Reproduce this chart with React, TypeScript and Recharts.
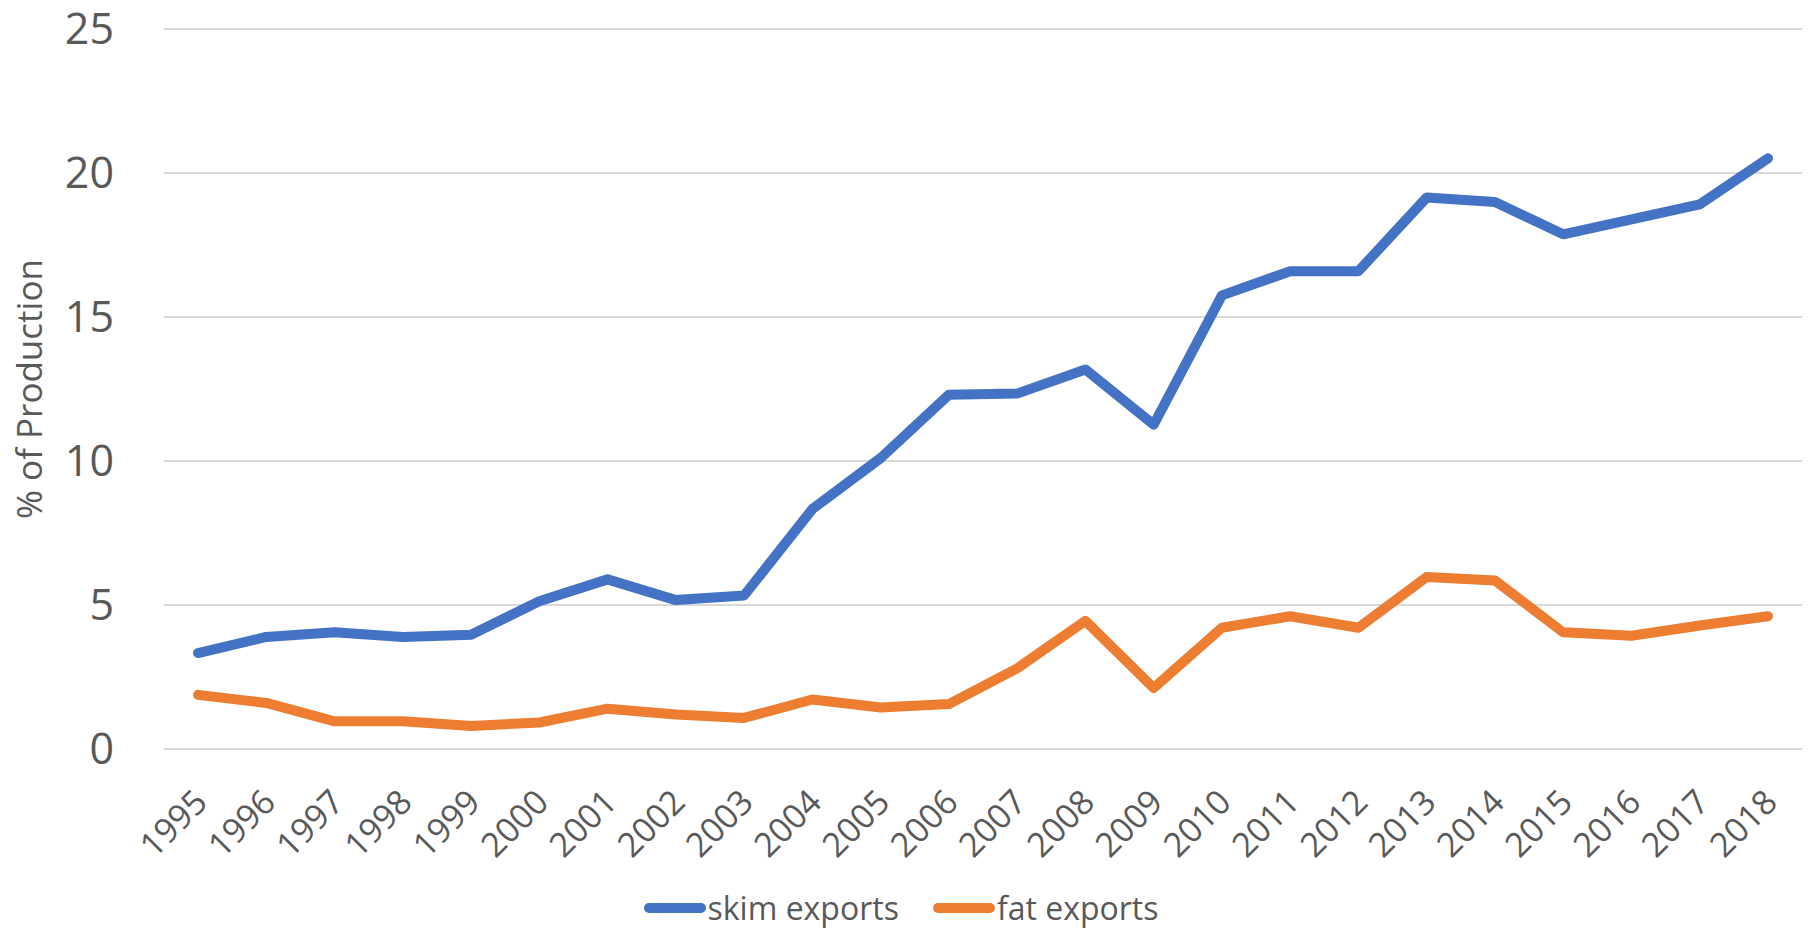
import { LineChart, Line, XAxis, YAxis, CartesianGrid, Legend, Label } from "recharts";

const years = [
  "1995", "1996", "1997", "1998", "1999", "2000", "2001", "2002", "2003", "2004", "2005", "2006",
  "2007", "2008", "2009", "2010", "2011", "2012", "2013", "2014", "2015", "2016", "2017", "2018",
];
const skimExports = [
  3.33, 3.89, 4.05, 3.89, 3.97, 5.13, 5.89, 5.17, 5.33, 8.33, 10.1, 12.3,
  12.34, 13.18, 11.26, 15.75, 16.59, 16.59, 19.15, 18.99, 17.87, 18.39, 18.91, 20.51,
];
const fatExports = [
  1.88, 1.6, 0.96, 0.96, 0.8, 0.92, 1.4, 1.2, 1.08, 1.72, 1.44, 1.56,
  2.8, 4.45, 2.12, 4.21, 4.61, 4.21, 5.97, 5.85, 4.05, 3.93, 4.29, 4.61,
];
const yTicks = [0, 5, 10, 15, 20, 25];

const data = years.map((y, i) => ({ year: y, skim: skimExports[i], fat: fatExports[i] }));

const FONT = "'Open Sans', sans-serif";
const TEXT = "#595959";
const BLUE = "#4472C4";
const ORANGE = "#ED7D31";

function YearTick({ x, y, payload }: any) {
  return (
    <text
      transform={`translate(${x + 2},${y + 46}) rotate(-45)`}
      textAnchor="end"
      dominantBaseline="central"
      fill={TEXT}
      fontSize={34}
      fontFamily={FONT}
    >
      {payload.value}
    </text>
  );
}

function LegendBox() {
  const items = [
    { label: "skim exports", color: BLUE },
    { label: "fat exports", color: ORANGE },
  ];
  return (
    <div style={{ display: "flex", justifyContent: "center", gap: 34, fontFamily: FONT, paddingTop: 6 }}>
      {items.map((it) => (
        <div key={it.label} style={{ display: "flex", alignItems: "center" }}>
          <div style={{ width: 62, height: 10, borderRadius: 5, background: it.color }} />
          <span style={{ fontSize: 32, color: TEXT, marginLeft: 2 }}>{it.label}</span>
        </div>
      ))}
    </div>
  );
}

export default function App() {
  return (
    <div style={{ position: "absolute", left: 0, top: 0, width: 1810, height: 930, background: "#fff" }}>
      <LineChart width={1810} height={930} data={data} margin={{ top: 29, right: 8, left: 0, bottom: 0 }}>
        <CartesianGrid stroke="#d9d9d9" strokeWidth={2} vertical={false} />
        <XAxis
          dataKey="year"
          axisLine={{ stroke: "#d9d9d9", strokeWidth: 2 }}
          tickLine={false}
          tickSize={0}
          tickMargin={0}
          interval={0}
          height={131}
          padding={{ left: 34, right: 34 }}
          tick={<YearTick />}
        />
        <YAxis
          width={164}
          domain={[0, 25]}
          ticks={yTicks}
          axisLine={false}
          tickLine={false}
          tickSize={0}
          tickMargin={50}
          tick={{ fontSize: 43, fill: TEXT, fontFamily: FONT }}
        >
          <Label
            content={() => (
              <text
                transform="translate(28,389) rotate(-90)"
                textAnchor="middle"
                dominantBaseline="central"
                fill={TEXT}
                fontSize={35}
                fontFamily={FONT}
              >
                % of Production
              </text>
            )}
          />
        </YAxis>
        <Legend verticalAlign="bottom" height={50} content={<LegendBox />} />
        <Line
          dataKey="skim"
          name="skim exports"
          stroke={BLUE}
          strokeWidth={10}
          dot={false}
          strokeLinecap="round"
          strokeLinejoin="round"
          isAnimationActive={false}
        />
        <Line
          dataKey="fat"
          name="fat exports"
          stroke={ORANGE}
          strokeWidth={10}
          dot={false}
          strokeLinecap="round"
          strokeLinejoin="round"
          isAnimationActive={false}
        />
      </LineChart>
    </div>
  );
}
